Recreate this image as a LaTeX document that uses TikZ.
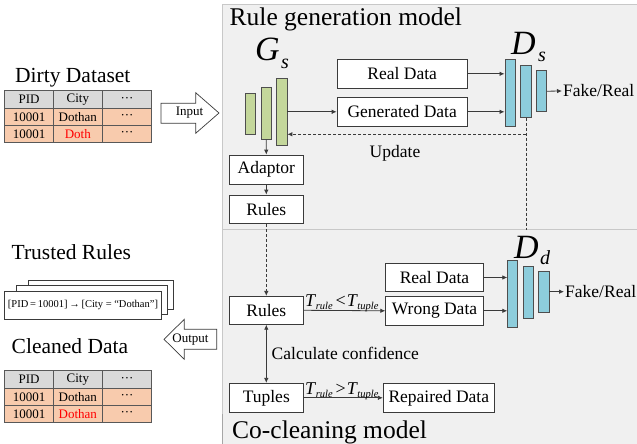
\documentclass[tikz,border=0pt]{standalone}
\usepackage{fontspec}
\setmainfont{Liberation Serif}
\usetikzlibrary{arrows.meta}
\definecolor{panelbg}{HTML}{F0F0F0}
\definecolor{panelln}{HTML}{C8C8C8}
\definecolor{gbar}{HTML}{C4D79B}
\definecolor{bbar}{HTML}{8DCDDC}
\definecolor{hdr}{HTML}{D9D9D9}
\definecolor{peach}{HTML}{F8CBAD}
\definecolor{ink}{HTML}{3A3A3A}
\newcommand{\fs}[1]{\fontsize{#1}{#1}\selectfont}
\newcommand{\Tsb}[1]{\textit{T}\kern-0.5pt\raisebox{-3.5pt}{\fs{10.5}\itshape #1}}
\begin{document}
\begin{tikzpicture}[x=1pt,y=-1pt,
  box/.style={draw=ink, fill=white, line width=0.8pt, inner sep=0pt, font=\fs{17.5}},
  gbarst/.style={draw=ink!90, fill=gbar, line width=0.8pt, inner sep=0pt},
  bbarst/.style={draw=ink!90, fill=bbar, line width=0.8pt, inner sep=0pt},
  arr/.style={draw=ink, line width=0.8pt, -{Latex[length=5pt,width=4.5pt]}},
  darr/.style={draw=ink, line width=0.8pt, {Latex[length=5pt,width=4.5pt]}-{Latex[length=5pt,width=4.5pt]}},
  dsh/.style={draw=ink, line width=0.8pt, dash pattern=on 3pt off 2pt},
  cell/.style={draw=ink!85, line width=0.7pt, inner sep=0pt, font=\fs{13}},
  lbl/.style={inner sep=0pt, anchor=base west},
  blockarrow/.style={draw=ink, fill=white, line width=0.7pt}
]
\useasboundingbox (0,0) rectangle (637,444);
% panel
\fill[panelbg] (222,4) rectangle (637,444);
\draw[panelln, line width=0.8pt] (222.5,444) -- (222.5,4) -- (637,4);
\draw[panelln, line width=0.8pt] (222.5,229.5) -- (637,229.5);
\draw[gray!70, line width=1.6pt] (222.5,414) -- (222.5,444);
\node[lbl, font=\fs{25.5}] (titleA) at (229.5,26) {Rule generation model};
\node[lbl, font=\fs{25.5}] (titleB) at (232,438) {Co-cleaning model};

% G_s bars
\node[gbarst, minimum width=10pt, minimum height=41pt] (gs1) at (250.7,113.5) {};
\node[gbarst, minimum width=10.3pt, minimum height=51.6pt] (gs2) at (266.2,113.5) {};
\node[gbarst, minimum width=10.3pt, minimum height=67pt] (gs3) at (281.8,111.8) {};
\node[lbl, font=\fs{34}\itshape] (gG) at (255,61) {G};
\node[lbl, font=\fs{20}\itshape] (gGs) at (281,68) {s};

% D_s bars
\node[bbarst, minimum width=10.7pt, minimum height=67.4pt] (ds1) at (510.3,93) {};
\node[bbarst, minimum width=10.6pt, minimum height=52pt] (ds2) at (526,91.3) {};
\node[bbarst, minimum width=10pt, minimum height=41pt] (ds3) at (541.7,91.2) {};
\node[lbl, font=\fs{34}\itshape] (dD) at (511,55) {D};
\node[lbl, font=\fs{20}\itshape] (dDs) at (538,62) {s};

% top boxes
\node[box, minimum width=130.3pt, minimum height=29pt] (realS) at (402.2,73.8) {Real Data};
\node[box, minimum width=130.3pt, minimum height=29pt] (genS) at (402.2,111.8) {Generated Data};
\node[box, minimum width=74pt, minimum height=29.3pt] (adaptor) at (266.3,169.7) {Adaptor};
\node[box, minimum width=74pt, minimum height=28.3pt] (rulesA) at (266.3,209.2) {Rules};
\node[inner sep=1pt, anchor=west, font=\fs{17.5}] (fakeS) at (562,91) {Fake/Real};
\node[inner sep=0pt, font=\fs{17.5}] (upd) at (395,153) {Update};

\draw[arr] (gs3.east |- genS.west) -- (genS.west);
\draw[arr] (realS.east) -- (realS.east -| ds1.west);
\draw[arr] (genS.east) -- (genS.east -| ds1.west);
\draw[arr] (ds3.east) -- (fakeS.west);
\coordinate (dsdown) at (526,230);
\coordinate (updc) at (526,134.3);
\draw[dsh] (ds2.south) -- (dsdown);
\draw[dsh, -{Latex[length=5pt,width=4.5pt]}] (updc) -- (updc -| gs3.east);
\draw[arr] (gs2.south) -- (adaptor.north);
\draw[arr] (adaptor.south) -- (rulesA.north);

% bottom panel
\node[box, minimum width=74pt, minimum height=28pt] (rulesB) at (266.3,310.3) {Rules};
\node[box, minimum width=97.6pt, minimum height=28.4pt] (realD) at (434.5,277.5) {Real Data};
\node[box, minimum width=97.6pt, minimum height=28.3pt] (wrongD) at (434.5,310.8) {Wrong Data};
\node[box, minimum width=74pt, minimum height=29pt] (tuples) at (266.3,397.8) {Tuples};
\node[box, minimum width=111pt, minimum height=29pt] (repaired) at (438.8,397.8) {Repaired Data};

\node[bbarst, minimum width=10pt, minimum height=67.3pt] (dd1) at (512.7,293.7) {};
\node[bbarst, minimum width=10pt, minimum height=52.3pt] (dd2) at (528.3,292.2) {};
\node[bbarst, minimum width=10.7pt, minimum height=41.3pt] (dd3) at (543.7,291.7) {};
\node[lbl, font=\fs{34}\itshape] (dDd) at (514,258) {D};
\node[lbl, font=\fs{20}\itshape] (dDdd) at (540,264) {d};
\node[inner sep=1pt, anchor=west, font=\fs{17.5}] (fakeD) at (564,291.7) {Fake/Real};

\draw[dsh, -{Latex[length=5pt,width=4.5pt]}] (rulesA.south) -- (rulesB.north);
\draw[arr] (rulesB.east) -- (wrongD.west);
\draw[arr] (realD.east) -- (realD.east -| dd1.west);
\draw[arr] (wrongD.east) -- (wrongD.east -| dd1.west);
\draw[arr] (dd3.east) -- (fakeD.west);
\draw[darr] (rulesB.south) -- (tuples.north);
\draw[arr] (tuples.east) -- (repaired.west);

\node[lbl, font=\fs{18}] (condA) at (305,306) {\Tsb{rule}\,<\kern1pt\Tsb{tuple}};
\node[lbl, font=\fs{18}] (condB) at (305,394) {\Tsb{rule}\,>\kern1pt\Tsb{tuple}};
\node[inner sep=0pt, anchor=west, font=\fs{17.5}] (calc) at (271.5,353.3) {Calculate confidence};

% left side labels
\node[lbl, font=\fs{21.5}] (dirty) at (15,82) {Dirty Dataset};
\node[lbl, font=\fs{21.5}] (trusted) at (11.5,259.5) {Trusted Rules};
\node[lbl, font=\fs{21.5}] (cleaned) at (11.5,353.5) {Cleaned Data};

% tables
\foreach \cx/\w in {29/48.6, 77.8/49, 127/49.4} {
  \node[cell, fill=hdr, minimum width=\w pt, minimum height=18pt] at (\cx,99.7) {};
  \node[cell, fill=peach, minimum width=\w pt, minimum height=17pt] at (\cx,117.2) {};
  \node[cell, fill=peach, minimum width=\w pt, minimum height=17pt] at (\cx,134.2) {};
  \node[cell, fill=hdr, minimum width=\w pt, minimum height=17.6pt] at (\cx,379.5) {};
  \node[cell, fill=peach, minimum width=\w pt, minimum height=17.4pt] at (\cx,397) {};
  \node[cell, fill=peach, minimum width=\w pt, minimum height=17pt] at (\cx,414.2) {};
}
\begin{scope}[every node/.style={inner sep=0pt, font=\fs{13}}]
\node (t1h1) at (29,99.7) {PID};
\node (t1h2) at (77.8,99.7) {City};
\node (t1h3) at (127,99.7) {···};
\node (t1a1) at (29,117.2) {10001};
\node (t1a2) at (77.8,117.2) {Dothan};
\node (t1a3) at (127,117.2) {···};
\node (t1b1) at (29,134.2) {10001};
\node[text=red] (t1b2) at (77.8,134.2) {Doth};
\node (t1b3) at (127,134.2) {···};
\node (t2h1) at (29,379.5) {PID};
\node (t2h2) at (77.8,379.5) {City};
\node (t2h3) at (127,379.5) {···};
\node (t2a1) at (29,397) {10001};
\node (t2a2) at (77.8,397) {Dothan};
\node (t2a3) at (127,397) {···};
\node (t2b1) at (29,414.2) {10001};
\node[text=red] (t2b2) at (77.8,414.2) {Dothan};
\node (t2b3) at (127,414.2) {···};
\end{scope}

% rule cards
\draw[blockarrow, fill=white] (28.3,280) rectangle (173.3,309);
\draw[blockarrow, fill=white] (16.7,285.7) rectangle (167.3,314.3);
\draw[blockarrow, fill=white] (4.7,291) rectangle (161.3,319.3);
\node[inner sep=0pt, font=\fs{10.5}] (rule) at (83,305.2) {[PID\,=\,10001]\,→\,[City = “Dothan”]};

% block arrows
\draw[blockarrow] (161,103.3) -- (195.7,103.3) -- (195.7,92.7) -- (219,113) -- (195.7,133.3) -- (195.7,123.3) -- (161,123.3) -- cycle;
\node[inner sep=0pt, font=\fs{13}] (inp) at (189.5,112.5) {Input};
\draw[blockarrow] (216.7,329.3) -- (184.3,329.3) -- (184.3,319.3) -- (164,339.3) -- (184.3,359.3) -- (184.3,349.3) -- (216.7,349.3) -- cycle;
\node[inner sep=0pt, font=\fs{13}] (outp) at (190.5,339.5) {Output};
\end{tikzpicture}
\end{document}
